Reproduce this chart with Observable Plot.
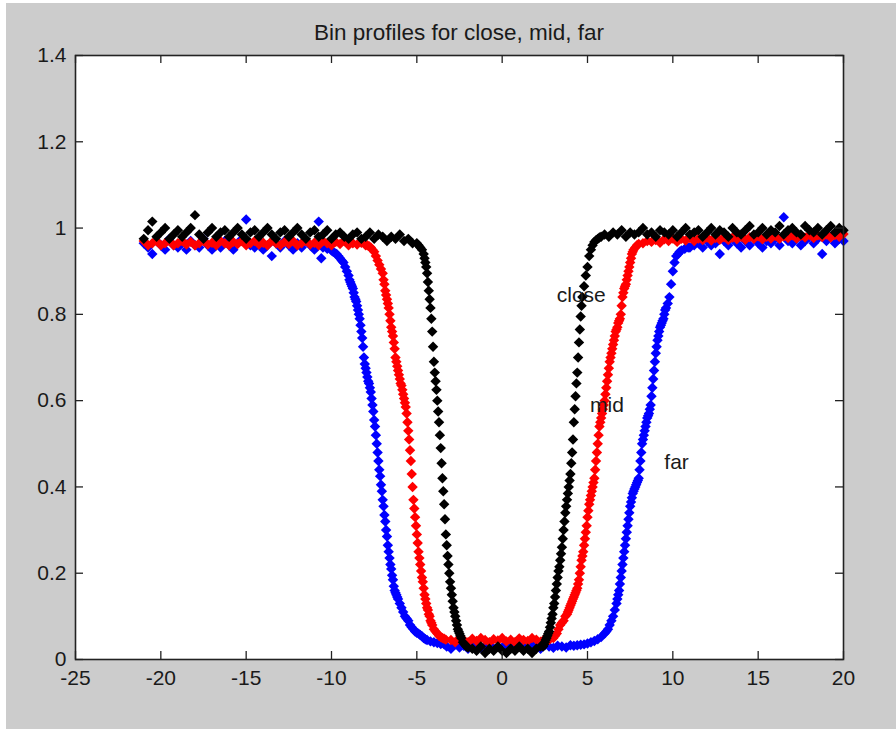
<!DOCTYPE html>
<html>
<head>
<meta charset="utf-8">
<script src="https://cdn.jsdelivr.net/npm/d3@7"></script>
<script src="https://cdn.jsdelivr.net/npm/@observablehq/plot@0.6"></script>
<style>
  html, body { margin: 0; padding: 0; background: #ffffff; }
  #fig { position: absolute; left: 6px; top: 3px; width: 890px; height: 726px; background: #cccccc; overflow: hidden; }
  #title { position: absolute; left: 69px; width: 768px; top: 17px; text-align: center;
           font-family: "Liberation Sans", Arial, sans-serif; font-size: 22.5px; color: #1a1a1a; }
  #chart { position: absolute; left: 0; top: 0; }
</style>
</head>
<body>
<div id="fig">
  <div id="chart"></div>
  <div id="title">Bin profiles for close, mid, far</div>
</div>
<script>
const xTicks = [-25, -20, -15, -10, -5, 0, 5, 10, 15, 20];
const yTicks = [0, 0.2, 0.4, 0.6, 0.8, 1, 1.2, 1.4];

// far (blue)
const farData = [
  [-21,0.965],[-20.75,0.955],[-20.5,0.94],[-20.25,0.97],[-20,0.96],[-19.75,0.95],[-19.5,0.975],[-19.25,0.96],
  [-19,0.955],[-18.75,0.965],[-18.5,0.95],[-18.25,0.97],[-18,0.96],[-17.75,0.955],[-17.5,0.975],[-17.25,0.96],
  [-17,0.95],[-16.75,0.965],[-16.5,0.955],[-16.25,0.97],[-16,0.96],[-15.75,0.95],[-15.5,0.965],[-15.25,0.975],
  [-15,1.02],[-14.75,0.96],[-14.5,0.955],[-14.25,0.97],[-14,0.95],[-13.75,0.96],[-13.5,0.935],[-13.25,0.965],
  [-13,0.955],[-12.75,0.97],[-12.5,0.96],[-12.25,0.95],[-12,0.965],[-11.75,0.955],[-11.5,0.97],[-11.25,0.96],
  [-11,0.95],[-10.75,1.015],[-10.6,0.93],
  [-10.5,0.955],[-10.25,0.952],[-10,0.948],[-9.9,0.945],[-9.8,0.942],[-9.7,0.94],[-9.6,0.935],[-9.5,0.93],
  [-9.4,0.925],[-9.3,0.92],[-9.2,0.91],[-9.1,0.9],[-9,0.89],[-8.95,0.88],[-8.9,0.875],[-8.85,0.87],
  [-8.8,0.865],[-8.75,0.86],[-8.7,0.85],[-8.65,0.84],[-8.6,0.835],[-8.55,0.83],[-8.5,0.82],[-8.45,0.81],
  [-8.4,0.8],[-8.35,0.79],[-8.3,0.775],[-8.25,0.76],[-8.2,0.745],[-8.15,0.725],[-8.1,0.7],[-8.05,0.685],
  [-8,0.675],[-7.95,0.665],[-7.9,0.655],[-7.85,0.645],[-7.8,0.64],[-7.75,0.63],[-7.7,0.62],[-7.65,0.605],
  [-7.6,0.59],[-7.55,0.575],[-7.5,0.555],[-7.45,0.54],[-7.4,0.52],[-7.35,0.5],[-7.3,0.48],[-7.25,0.46],
  [-7.2,0.44],[-7.15,0.425],[-7.1,0.405],[-7.05,0.39],[-7,0.37],[-6.95,0.355],[-6.9,0.335],[-6.85,0.32],
  [-6.8,0.3],[-6.75,0.285],[-6.7,0.265],[-6.65,0.25],[-6.6,0.235],[-6.55,0.22],[-6.5,0.21],[-6.45,0.195],
  [-6.4,0.185],[-6.35,0.17],[-6.3,0.16],[-6.25,0.155],[-6.2,0.15],[-6.15,0.145],[-6.1,0.14],[-6,0.13],
  [-5.9,0.12],[-5.8,0.11],[-5.7,0.1],[-5.6,0.095],[-5.5,0.09],[-5.4,0.08],[-5.3,0.075],[-5.2,0.07],
  [-5.1,0.065],[-5,0.062],[-4.9,0.06],[-4.8,0.057],[-4.7,0.054],[-4.6,0.05],[-4.5,0.047],[-4.4,0.045],
  [-4.2,0.042],[-4,0.04],[-3.8,0.038],[-3.6,0.036],[-3.4,0.035],
  [-3.25,0.03],[-3,0.025],[-2.75,0.035],[-2.5,0.028],[-2.25,0.032],[-2,0.025],[-1.75,0.03],[-1.5,0.035],
  [-1.25,0.027],[-1,0.03],[-0.75,0.033],[-0.5,0.025],[-0.25,0.03],[0,0.028],[0.25,0.035],[0.5,0.03],
  [0.75,0.025],[1,0.032],[1.25,0.03],[1.5,0.028],[1.75,0.035],[2,0.03],[2.25,0.025],[2.5,0.033],
  [2.75,0.03],[3,0.027],[3.25,0.032],[3.5,0.03],[3.75,0.028],[4,0.033],
  [4.2,0.032],[4.4,0.033],[4.6,0.034],[4.8,0.035],[5,0.037],[5.2,0.04],[5.4,0.043],[5.6,0.047],
  [5.8,0.052],[6,0.06],[6.1,0.065],[6.2,0.07],[6.3,0.08],[6.4,0.09],[6.5,0.1],[6.6,0.115],
  [6.7,0.13],[6.75,0.14],[6.8,0.15],[6.85,0.16],[6.9,0.175],[6.95,0.19],[7,0.205],[7.05,0.22],
  [7.1,0.235],[7.15,0.25],[7.2,0.265],[7.25,0.28],[7.3,0.295],[7.35,0.31],[7.4,0.325],[7.45,0.34],
  [7.5,0.355],[7.55,0.365],[7.6,0.375],[7.65,0.385],[7.7,0.39],[7.75,0.395],[7.8,0.4],[7.85,0.405],
  [7.9,0.41],[7.95,0.415],[8,0.42],[8.05,0.44],[8.1,0.46],[8.15,0.48],[8.2,0.5],[8.25,0.51],
  [8.3,0.52],[8.35,0.53],[8.4,0.54],[8.45,0.55],[8.5,0.56],[8.55,0.565],[8.6,0.57],[8.65,0.58],
  [8.7,0.59],[8.75,0.61],[8.8,0.63],[8.85,0.65],[8.9,0.67],[8.95,0.69],[9,0.71],[9.05,0.725],
  [9.1,0.74],[9.15,0.75],[9.2,0.76],[9.25,0.77],[9.3,0.775],[9.35,0.78],[9.4,0.785],[9.45,0.79],
  [9.5,0.8],[9.55,0.81],[9.6,0.815],[9.7,0.825],[9.8,0.84],[9.9,0.87],[10,0.9],[10.1,0.92],
  [10.2,0.935],[10.3,0.94],[10.4,0.945],[10.5,0.948],[10.7,0.952],[10.9,0.955],
  [11,0.955],[11.25,0.96],[11.5,0.965],[11.75,0.955],[12,0.97],[12.25,0.96],[12.5,0.965],[12.75,0.94],
  [13,0.97],[13.25,0.96],[13.5,0.975],[13.75,0.965],[14,0.955],[14.25,0.97],[14.5,0.96],[14.75,0.975],
  [15,0.965],[15.25,0.955],[15.5,0.97],[15.75,0.965],[16,0.975],[16.25,0.96],[16.5,1.025],[16.75,0.97],
  [17,0.965],[17.25,0.975],[17.5,0.96],[17.75,0.97],[18,0.98],[18.25,0.965],[18.5,0.975],[18.75,0.94],
  [19,0.97],[19.25,0.98],[19.5,0.965],[19.75,0.975],[20,0.97]
];

// mid (red)
const midData = [
  [-21,0.97],[-20.75,0.96],[-20.5,0.965],[-20.25,0.97],[-20,0.96],[-19.75,0.965],[-19.5,0.97],[-19.25,0.96],
  [-19,0.965],[-18.75,0.97],[-18.5,0.962],[-18.25,0.968],[-18,0.96],[-17.75,0.965],[-17.5,0.97],[-17.25,0.962],
  [-17,0.966],[-16.75,0.96],[-16.5,0.97],[-16.25,0.965],[-16,0.96],[-15.75,0.968],[-15.5,0.963],[-15.25,0.97],
  [-15,0.96],[-14.75,0.965],[-14.5,0.97],[-14.25,0.962],[-14,0.966],[-13.75,0.96],[-13.5,0.97],[-13.25,0.965],
  [-13,0.96],[-12.75,0.968],[-12.5,0.963],[-12.25,0.97],[-12,0.96],[-11.75,0.965],[-11.5,0.97],[-11.25,0.962],
  [-11,0.966],[-10.75,0.96],[-10.5,0.97],[-10.25,0.965],[-10,0.96],[-9.75,0.968],[-9.5,0.963],[-9.25,0.97],
  [-9,0.96],[-8.75,0.965],[-8.5,0.962],[-8.25,0.966],[-8,0.96],
  [-7.9,0.96],[-7.8,0.958],[-7.7,0.955],[-7.6,0.95],[-7.5,0.945],[-7.4,0.935],[-7.3,0.925],[-7.2,0.915],
  [-7.1,0.905],[-7,0.895],[-6.95,0.88],[-6.9,0.87],[-6.85,0.855],[-6.8,0.845],[-6.75,0.835],[-6.7,0.825],
  [-6.65,0.815],[-6.6,0.8],[-6.55,0.785],[-6.5,0.77],[-6.45,0.76],[-6.4,0.75],[-6.35,0.735],[-6.3,0.72],
  [-6.25,0.7],[-6.2,0.69],[-6.15,0.68],[-6.1,0.67],[-6.05,0.66],[-6,0.65],[-5.95,0.64],[-5.9,0.635],
  [-5.85,0.625],[-5.8,0.615],[-5.75,0.605],[-5.7,0.595],[-5.65,0.585],[-5.6,0.57],[-5.55,0.55],[-5.5,0.53],
  [-5.45,0.51],[-5.4,0.485],[-5.35,0.46],[-5.3,0.43],[-5.25,0.4],[-5.2,0.37],[-5.15,0.35],[-5.1,0.33],
  [-5.05,0.31],[-5,0.29],[-4.95,0.27],[-4.9,0.25],[-4.85,0.235],[-4.8,0.22],[-4.75,0.205],[-4.7,0.19],
  [-4.65,0.18],[-4.6,0.165],[-4.55,0.15],[-4.5,0.14],[-4.45,0.13],[-4.4,0.12],[-4.35,0.115],[-4.3,0.105],
  [-4.25,0.1],[-4.2,0.09],[-4.15,0.085],[-4.1,0.08],[-4,0.07],[-3.9,0.065],[-3.8,0.06],[-3.7,0.055],
  [-3.6,0.052],[-3.5,0.05],[-3.4,0.048],[-3.3,0.046],
  [-3,0.045],[-2.75,0.04],[-2.5,0.05],[-2.25,0.045],[-2,0.04],[-1.75,0.048],[-1.5,0.043],[-1.25,0.05],
  [-1,0.045],[-0.75,0.04],[-0.5,0.047],[-0.25,0.044],[0,0.05],[0.25,0.042],[0.5,0.046],[0.75,0.04],
  [1,0.049],[1.25,0.045],[1.5,0.043],[1.75,0.05],[2,0.046],[2.25,0.041],[2.5,0.048],[2.75,0.045],
  [3,0.05],[3.1,0.055],[3.2,0.06],[3.3,0.07],[3.4,0.08],[3.5,0.085],[3.6,0.09],[3.7,0.1],
  [3.8,0.105],[3.85,0.11],[3.9,0.115],[3.95,0.12],[4,0.125],[4.05,0.13],[4.1,0.135],[4.15,0.14],
  [4.2,0.145],[4.25,0.15],[4.3,0.155],[4.35,0.16],[4.4,0.165],[4.45,0.175],[4.5,0.185],[4.55,0.2],
  [4.6,0.215],[4.65,0.23],[4.7,0.24],[4.75,0.25],[4.8,0.265],[4.85,0.28],[4.9,0.295],[4.95,0.31],
  [5,0.33],[5.05,0.345],[5.1,0.36],[5.15,0.37],[5.2,0.38],[5.25,0.39],[5.3,0.4],[5.35,0.41],
  [5.4,0.42],[5.45,0.44],[5.5,0.46],[5.55,0.48],[5.6,0.5],[5.65,0.52],[5.7,0.54],[5.75,0.55],
  [5.8,0.56],[5.85,0.57],[5.9,0.58],[5.95,0.59],[6,0.6],[6.05,0.615],[6.1,0.63],[6.15,0.645],
  [6.2,0.66],[6.25,0.675],[6.3,0.69],[6.35,0.7],[6.4,0.71],[6.45,0.72],[6.5,0.73],[6.55,0.74],
  [6.6,0.75],[6.65,0.76],[6.7,0.765],[6.75,0.77],[6.8,0.78],[6.85,0.785],[6.9,0.79],[6.95,0.8],
  [7,0.82],[7.05,0.84],[7.1,0.85],[7.15,0.86],[7.2,0.865],[7.25,0.87],[7.3,0.88],[7.35,0.89],
  [7.4,0.9],[7.45,0.91],[7.5,0.92],[7.55,0.93],[7.6,0.94],[7.65,0.945],[7.7,0.95],[7.8,0.955],
  [7.9,0.96],[8,0.963],
  [8.25,0.965],[8.5,0.97],[8.75,0.968],[9,0.972],[9.25,0.966],[9.5,0.974],[9.75,0.97],[10,0.976],
  [10.25,0.968],[10.5,0.975],[10.75,0.971],[11,0.977],[11.25,0.97],[11.5,0.976],[11.75,0.972],[12,0.978],
  [12.25,0.971],[12.5,0.977],[12.75,0.973],[13,0.979],[13.25,0.972],[13.5,0.978],[13.75,0.974],[14,0.98],
  [14.25,0.973],[14.5,0.979],[14.75,0.975],[15,0.981],[15.25,0.974],[15.5,0.98],[15.75,0.976],[16,0.982],
  [16.25,0.975],[16.5,0.981],[16.75,0.977],[17,0.983],[17.25,0.976],[17.5,0.982],[17.75,0.978],[18,0.984],
  [18.25,0.977],[18.5,0.983],[18.75,0.979],[19,0.985],[19.25,0.978],[19.5,0.984],[19.75,0.98],[20,0.986]
];

// close (black)
const closeData = [
  [-21,0.975],[-20.75,0.995],[-20.5,1.015],[-20.25,0.98],[-20,0.99],[-19.75,1.0],[-19.5,0.975],[-19.25,0.985],
  [-19,0.995],[-18.75,0.98],[-18.5,0.99],[-18.25,1.0],[-18,1.03],[-17.75,0.985],[-17.5,0.975],[-17.25,0.99],
  [-17,1.0],[-16.75,0.98],[-16.5,0.99],[-16.25,0.995],[-16,0.98],[-15.75,0.99],[-15.5,1.0],[-15.25,0.985],
  [-15,0.975],[-14.75,0.99],[-14.5,0.995],[-14.25,0.98],[-14,0.99],[-13.75,1.0],[-13.5,0.985],[-13.25,0.975],
  [-13,0.99],[-12.75,0.995],[-12.5,0.98],[-12.25,0.99],[-12,1.0],[-11.75,0.985],[-11.5,0.975],[-11.25,0.99],
  [-11,0.995],[-10.75,0.98],[-10.5,0.985],[-10.25,0.995],[-10,0.975],[-9.75,0.985],[-9.5,0.99],[-9.25,0.98],
  [-9,0.975],[-8.75,0.985],[-8.5,0.99],[-8.25,0.975],[-8,0.98],[-7.75,0.99],[-7.5,0.975],[-7.25,0.985],
  [-7,0.98],[-6.75,0.97],[-6.5,0.98],[-6.25,0.975],[-6,0.985],[-5.75,0.97],[-5.5,0.975],[-5.25,0.965],
  [-5,0.965],[-4.9,0.96],[-4.8,0.955],[-4.7,0.95],
  [-4.6,0.94],[-4.55,0.93],[-4.5,0.92],[-4.45,0.91],[-4.4,0.895],[-4.35,0.875],[-4.3,0.855],[-4.25,0.835],
  [-4.2,0.815],[-4.15,0.79],[-4.1,0.76],[-4.05,0.725],[-4,0.69],[-3.95,0.665],[-3.9,0.645],[-3.85,0.625],
  [-3.8,0.6],[-3.75,0.575],[-3.7,0.55],[-3.65,0.52],[-3.6,0.49],[-3.55,0.455],[-3.5,0.42],[-3.45,0.39],
  [-3.4,0.36],[-3.35,0.325],[-3.3,0.29],[-3.25,0.265],[-3.2,0.24],[-3.15,0.22],[-3.1,0.2],[-3.05,0.18],
  [-3,0.165],[-2.95,0.15],[-2.9,0.135],[-2.85,0.12],[-2.8,0.11],[-2.75,0.1],[-2.7,0.09],[-2.65,0.08],
  [-2.6,0.07],[-2.55,0.065],[-2.5,0.06],[-2.45,0.055],[-2.4,0.05],[-2.3,0.04],[-2.2,0.035],[-2.1,0.03],
  [-2,0.028],
  [-1.75,0.025],[-1.5,0.02],[-1.25,0.03],[-1,0.015],[-0.75,0.025],[-0.5,0.02],[-0.25,0.03],[0,0.02],
  [0.25,0.015],[0.5,0.025],[0.75,0.02],[1,0.03],[1.25,0.02],[1.5,0.025],[1.75,0.015],[2,0.025],[2.25,0.03],
  [2.4,0.03],[2.45,0.035],[2.5,0.04],[2.55,0.045],[2.6,0.05],[2.65,0.055],[2.7,0.06],[2.75,0.065],
  [2.8,0.075],[2.85,0.085],[2.9,0.095],[2.95,0.105],[3,0.12],[3.05,0.13],[3.1,0.145],[3.15,0.16],
  [3.2,0.175],[3.25,0.19],[3.3,0.205],[3.35,0.215],[3.4,0.23],[3.45,0.245],[3.5,0.26],[3.55,0.28],
  [3.6,0.3],[3.65,0.32],[3.7,0.34],[3.75,0.355],[3.8,0.37],[3.85,0.385],[3.9,0.4],[3.95,0.415],
  [4,0.43],[4.05,0.455],[4.1,0.48],[4.15,0.51],[4.2,0.55],[4.25,0.58],[4.3,0.61],[4.35,0.64],
  [4.4,0.665],[4.45,0.7],[4.5,0.735],[4.55,0.765],[4.6,0.795],[4.65,0.82],[4.7,0.84],[4.8,0.865],
  [4.9,0.89],[5,0.91],[5.1,0.935],[5.2,0.95],[5.3,0.96],[5.4,0.968],[5.5,0.972],[5.6,0.975],
  [5.7,0.978],[5.8,0.98],
  [6,0.985],[6.25,0.98],[6.5,0.99],[6.75,0.985],[7,0.995],[7.25,0.98],[7.5,0.99],[7.75,0.985],
  [8,0.99],[8.25,1.0],[8.5,0.985],[8.75,0.99],[9,0.98],[9.25,0.995],[9.5,0.99],[9.75,0.985],
  [10,0.995],[10.25,0.98],[10.5,0.99],[10.75,1.0],[11,0.985],[11.25,0.99],[11.5,0.995],[11.75,0.98],
  [12,0.99],[12.25,1.0],[12.5,0.985],[12.75,0.995],[13,0.99],[13.25,0.98],[13.5,1.0],[13.75,0.99],
  [14,0.985],[14.25,0.995],[14.5,1.005],[14.75,0.985],[15,0.99],[15.25,1.0],[15.5,0.985],[15.75,0.995],
  [16,0.99],[16.25,1.005],[16.5,0.985],[16.75,0.995],[17,1.0],[17.25,0.99],[17.5,0.985],[17.75,1.005],
  [18,0.995],[18.25,0.99],[18.5,1.0],[18.75,0.985],[19,0.995],[19.25,1.005],[19.5,0.99],[19.75,1.0],[20,0.995]
];

const labelTexts = ["close", "mid", "far"];
const labelX = [3.2, 5.15, 9.5];
const labelY = [0.845, 0.59, 0.458];

const labels = labelTexts.map((t, i) => ({text: t, x: labelX[i], y: labelY[i]}));
const series = [
  {data: farData, color: "#0000ff"},
  {data: midData, color: "#ff0000"},
  {data: closeData, color: "#000000"}
];

const W = 890, H = 726;
const mL = 69, mR = 53, mT = 52, mB = 70;
const innerW = W - mL - mR, innerH = H - mT - mB;
const tickLen = 8;

const chart = Plot.plot({
  width: W,
  height: H,
  marginLeft: mL,
  marginRight: mR,
  marginTop: mT,
  marginBottom: mB,
  style: {background: "transparent", fontFamily: "'Liberation Sans', Arial, sans-serif", fontSize: "21px", color: "#1a1a1a"},
  x: {domain: [-25, 20]},
  y: {domain: [0, 1.4]},
  marks: [
    Plot.frame({fill: "white", stroke: null}),
    ...series.map(s => Plot.dot(s.data, {x: d => d[0], y: d => d[1], symbol: "diamond2", r: 4.7, fill: s.color, stroke: null})),
    Plot.tickX(xTicks, {x: d => d, insetTop: innerH - tickLen, stroke: "#222", strokeWidth: 1.3}),
    Plot.tickX(xTicks, {x: d => d, insetBottom: innerH - tickLen, stroke: "#222", strokeWidth: 1.3}),
    Plot.tickY(yTicks, {y: d => d, insetRight: innerW - tickLen, stroke: "#222", strokeWidth: 1.3}),
    Plot.tickY(yTicks, {y: d => d, insetLeft: innerW - tickLen, stroke: "#222", strokeWidth: 1.3}),
    Plot.frame({stroke: "#222", strokeWidth: 1.6}),
    Plot.axisX({ticks: xTicks, tickSize: 0, tickPadding: 11, tickFormat: d => String(d), label: null}),
    Plot.axisY({ticks: yTicks, tickSize: 0, tickPadding: 9, tickFormat: d => String(d), label: null}),
    Plot.text(labels, {x: "x", y: "y", text: "text", textAnchor: "start", fontSize: 21, fill: "#1a1a1a"})
  ]
});
document.getElementById("chart").appendChild(chart);
</script>
</body>
</html>
